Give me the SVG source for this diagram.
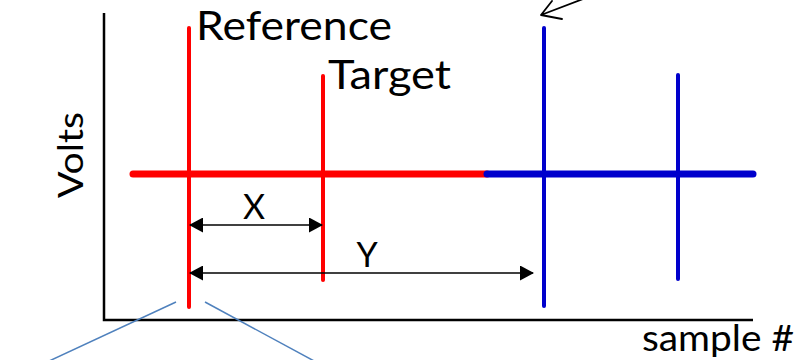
<svg xmlns="http://www.w3.org/2000/svg" width="808" height="360" viewBox="0 0 808 360">
<style>
.axis{stroke:#000;stroke-width:2.5;fill:none}
.red{stroke:#ff0000;fill:none;stroke-linecap:round}
.blue{stroke:#0000cc;fill:none;stroke-linecap:round}
.dim{stroke:#000;stroke-width:1.6;fill:none}
.zoom{stroke:#4f81bd;stroke-width:1.5;fill:none}
.lbl{font-family:Lato,"Liberation Sans",sans-serif;fill:#000}
</style>
<defs>
<marker id="ah" markerWidth="14" markerHeight="15" refX="13" refY="7.5" orient="auto-start-reverse" markerUnits="userSpaceOnUse">
<path d="M0,0 L14,7.5 L0,15 Z" fill="#000"/>
</marker>
</defs>
<rect width="808" height="360" fill="#fff"/>
<g id="axes">
<path class="axis" d="M104,13 V320 H753"/>
<text class="lbl" transform="translate(83,198) rotate(-90)" font-size="35" textLength="86" lengthAdjust="spacingAndGlyphs">Volts</text>
<text class="lbl" x="642" y="351" font-size="36" textLength="152" lengthAdjust="spacingAndGlyphs">sample #</text>
</g>
<g id="signal">
<line class="red" x1="133" y1="174" x2="487" y2="174" stroke-width="7"/>
<line class="blue" x1="487" y1="174" x2="753" y2="174" stroke-width="7"/>
</g>
<g id="reference">
<line class="red" x1="189" y1="28" x2="189" y2="307" stroke-width="4"/>
<text class="lbl" x="196" y="40" font-size="40" textLength="196" lengthAdjust="spacingAndGlyphs">Reference</text>
</g>
<g id="target">
<line class="red" x1="323" y1="76" x2="323" y2="280" stroke-width="4"/>
<text class="lbl" x="328" y="89" font-size="40" textLength="123" lengthAdjust="spacingAndGlyphs">Target</text>
</g>
<g id="blue1">
<line class="blue" x1="544" y1="28" x2="544" y2="306" stroke-width="4"/>
</g>
<g id="blue2">
<line class="blue" x1="678" y1="75" x2="678" y2="279" stroke-width="4"/>
</g>
<g id="connectors">
<line class="dim" x1="190" y1="225" x2="322" y2="225" marker-start="url(#ah)" marker-end="url(#ah)"/>
<line class="dim" x1="190" y1="273" x2="533" y2="273" marker-start="url(#ah)" marker-end="url(#ah)"/>
<text class="lbl" x="254" y="219" font-size="34" text-anchor="middle">X</text>
<text class="lbl" x="367" y="267" font-size="34" text-anchor="middle">Y</text>
<line class="zoom" x1="176" y1="302" x2="47" y2="362"/>
<line class="zoom" x1="205" y1="302" x2="316" y2="362"/>
<path d="M583,-1 L541,15 M552,1 L541,15 L562,19" stroke="#000" stroke-width="1.8" fill="none" stroke-linecap="round" stroke-linejoin="round"/>
</g>
</svg>
